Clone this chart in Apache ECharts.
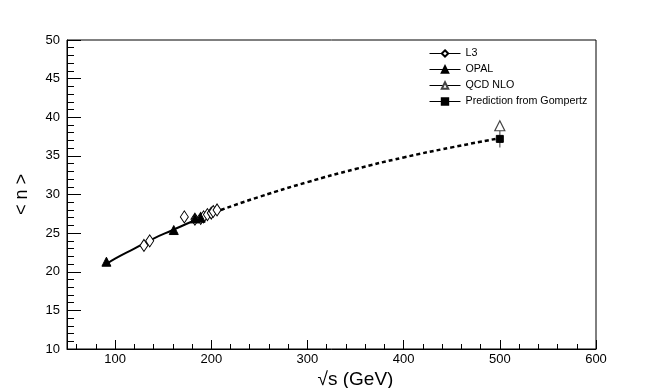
<!DOCTYPE html>
<html>
<head>
  <meta charset="utf-8">
  <script src="https://cdn.jsdelivr.net/npm/echarts@6/dist/echarts.min.js"></script>
</head>
<body style="margin:0;background:#fff;">
  <div id="id_chart" style="width:664px;height:388px;"></div>
  <script type="text/javascript">
    // data
    var l3X = [130, 136, 172, 183, 189, 192, 196, 200, 202, 206];
    var l3Y = [23.4, 24.0, 27.1, 26.8, 26.9, 27.1, 27.4, 27.6, 27.8, 28.0];
    var l3Err = [0.3, 0.3, 0.3, 0.2, 0.2, 0.2, 0.2, 0.2, 0.2, 0.2];
    var opalX = [91, 161, 183, 189];
    var opalY = [21.3, 25.4, 26.9, 27.0];
    var opalErr = [0.35, 0.2, 0.2, 0.2];
    var qcdX = [500];
    var qcdY = [38.9];
    var predX = [500];
    var predY = [37.2];
    var predErr = [1.1];
    var fitX = [91, 100, 120, 140, 160, 180, 200, 210];
    var fitY = [21.0, 21.7, 23.0, 24.3, 25.4, 26.5, 27.5, 28.0];
    var extX = [210, 250, 300, 350, 400, 450, 500];
    var extY = [28.0, 29.7, 31.6, 33.3, 34.8, 36.1, 37.3];
    var xMajor = [100, 200, 300, 400, 500, 600];
    var xMinor = [60, 80, 120, 140, 160, 180, 220, 240, 260, 280, 320, 340, 360, 380, 420, 440, 460, 480, 520, 540, 560, 580];

    function pairs(xs, ys) {
      var out = [];
      for (var i = 0; i < xs.length; i++) out.push([xs[i], ys[i]]);
      return out;
    }
    function errData(xs, ys, es) {
      var out = [];
      for (var i = 0; i < xs.length; i++) out.push([xs[i], ys[i] - es[i], ys[i] + es[i]]);
      return out;
    }
    function errSeries(data, color) {
      return {
        type: 'custom',
        data: data,
        silent: true,
        z: 1,
        renderItem: function (params, api) {
          var lo = api.coord([api.value(0), api.value(1)]);
          var hi = api.coord([api.value(0), api.value(2)]);
          return {
            type: 'line',
            shape: { x1: lo[0], y1: lo[1], x2: hi[0], y2: hi[1] },
            style: { stroke: color, lineWidth: 1.5 }
          };
        }
      };
    }

    var font = 'Liberation Sans, Arial, sans-serif';
    var myChart = echarts.init(document.getElementById('id_chart'));
    var option = {
      animation: false,
      grid: {
        left: 67, right: 68, top: 40, bottom: 39, outerBoundsMode: 'none',
        show: true, borderColor: '#000', borderWidth: 1
      },
      legend: {
        orient: 'vertical',
        left: 424,
        top: 43,
        itemWidth: 31,
        itemHeight: 8,
        itemGap: 5,
        textStyle: { fontFamily: font, fontSize: 10.7, color: '#000' },
        lineStyle: { color: '#000', width: 1, opacity: 1 },
        data: ['L3', 'OPAL', 'QCD NLO', 'Prediction from Gompertz']
      },
      xAxis: [{
        type: 'value',
        min: 50,
        max: 600,
        position: 'bottom',
        name: '\u221As (GeV)',
        nameLocation: 'middle',
        nameGap: 21,
        nameMoveOverlap: false,
        nameTextStyle: { fontFamily: font, fontSize: 19, color: '#000', padding: [0, 0, 0, 48] },
        axisLine: { lineStyle: { color: '#000', width: 1 } },
        axisTick: { inside: true, length: 9, customValues: xMajor, lineStyle: { color: '#000' } },
        axisLabel: { customValues: xMajor, fontFamily: font, fontSize: 13, color: '#000', margin: 4 },
        splitLine: { show: false }
      }, {
        type: 'value',
        min: 50,
        max: 600,
        position: 'bottom',
        axisLine: { show: false },
        axisTick: { inside: true, length: 5, customValues: xMinor, lineStyle: { color: '#000' } },
        axisLabel: { show: false },
        splitLine: { show: false }
      }],
      yAxis: {
        type: 'value',
        min: 10,
        max: 50,
        interval: 5,
        name: '< n >',
        nameLocation: 'middle',
        nameGap: 36,
        nameMoveOverlap: false,
        nameTextStyle: { fontFamily: font, fontSize: 18, color: '#000' },
        axisLine: { lineStyle: { color: '#000', width: 1 } },
        axisTick: { inside: true, length: 14, lineStyle: { color: '#000' } },
        minorTick: { show: true, splitNumber: 5, length: 7, lineStyle: { color: '#000' } },
        axisLabel: { fontFamily: font, fontSize: 13, color: '#000', margin: 7 },
        splitLine: { show: false }
      },
      series: [
        {
          type: 'line', data: pairs(fitX, fitY), smooth: true, showSymbol: false, silent: true,
          lineStyle: { color: '#000', width: 2 }, z: 2
        },
        {
          type: 'line', data: pairs(extX, extY), smooth: true, showSymbol: false, silent: true,
          lineStyle: { color: '#000', width: 2.5, type: [4, 3] }, z: 2
        },
        errSeries(errData(l3X, l3Y, l3Err), '#777'),
        errSeries(errData(opalX, opalY, opalErr), '#000'),
        errSeries(errData(predX, predY, predErr), '#777'),
        {
          name: 'L3', type: 'line', data: pairs(l3X, l3Y), symbol: 'diamond', symbolSize: [8, 12],
          itemStyle: { color: '#fff', borderColor: '#000', borderWidth: 1 },
          lineStyle: { opacity: 0 }, z: 5
        },
        {
          name: 'OPAL', type: 'line', data: pairs(opalX, opalY), symbol: 'triangle', symbolSize: 9,
          itemStyle: { color: '#000', borderColor: '#000', borderWidth: 1 },
          lineStyle: { opacity: 0 }, z: 5
        },
        {
          name: 'QCD NLO', type: 'line', data: pairs(qcdX, qcdY), symbol: 'triangle', symbolSize: 10,
          itemStyle: { color: '#fff', borderColor: '#444', borderWidth: 1.2 },
          lineStyle: { opacity: 0 }, z: 5
        },
        {
          name: 'Prediction from Gompertz', type: 'line', data: pairs(predX, predY), symbol: 'rect', symbolSize: 7,
          itemStyle: { color: '#000', borderColor: '#000', borderWidth: 1 },
          lineStyle: { opacity: 0 }, z: 5
        }
      ]
    };
    myChart.setOption(option);
  </script>
</body>
</html>
